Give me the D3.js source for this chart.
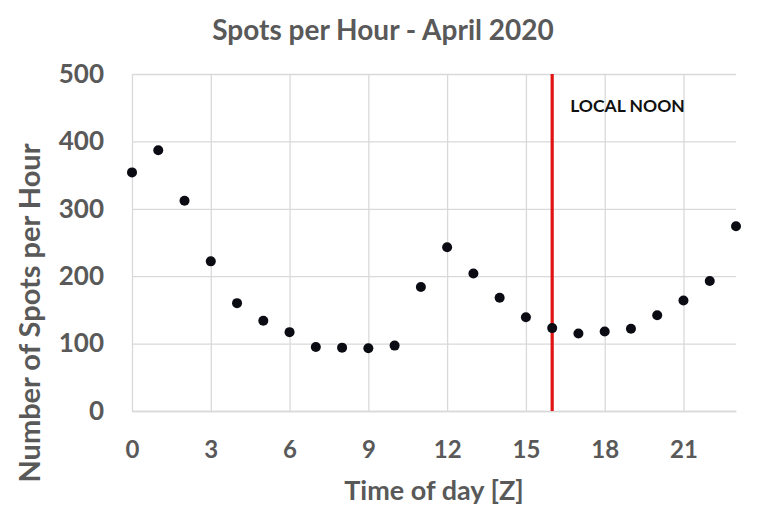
<!DOCTYPE html>
<html>
<head>
<meta charset="utf-8">
<script src="https://cdn.jsdelivr.net/npm/d3@7"></script>
<style>
  body { margin: 0; background: #fff; }
  text { font-family: Lato, "Open Sans", sans-serif; font-weight: bold; }
</style>
</head>
<body>
<div id="chart-area"></div>
<script>
// hours (Z) and spots per hour
const hours = [0, 1, 2, 3, 4, 5, 6, 7, 8, 9, 10, 11, 12, 13, 14, 15, 16, 17, 18, 19, 20, 21, 22, 23];
const spots = [354, 387, 312, 222, 160, 134, 117, 95, 94, 93, 97, 184, 243, 204, 168, 139, 123, 115, 118, 122, 142, 164, 193, 274];
const xTicks = [0, 3, 6, 9, 12, 15, 18, 21];
const yTicks = [0, 100, 200, 300, 400, 500];
const noonHour = 16;

const chart = () => {
	let margin = {left: 132, right: 30, top: 74, bottom: 114};
	let width = 766 - margin.left - margin.right;
	let height = 525 - margin.top - margin.bottom;

	let svg = d3.select("#chart-area")
		.append("svg")
			.attr("width", 766)
			.attr("height", 525);

	let g = svg.append("g")
		.attr("transform", "translate(" + margin.left + "," + margin.top + ")");

	// scales
	let x = d3.scaleLinear()
		.domain([0, 23])
		.range([0, width]);

	let y = d3.scaleLinear()
		.domain([0, 500])
		.range([height, 0]);

	// grid
	let yGrid = d3.axisLeft(y)
		.tickValues(yTicks)
		.tickSize(-width)
		.tickFormat("");
	g.append("g")
		.attr("class", "grid")
		.call(yGrid);

	let xGrid = d3.axisBottom(x)
		.tickValues(xTicks)
		.tickSize(-height)
		.tickFormat("");
	g.append("g")
		.attr("class", "grid")
		.attr("transform", "translate(0," + height + ")")
		.call(xGrid);

	g.selectAll(".grid .domain").remove();
	g.selectAll(".grid line")
		.attr("stroke", "#d9d9d9")
		.attr("stroke-width", 1.3);

	// X axis labels
	let xAxis = d3.axisBottom(x)
		.tickValues(xTicks)
		.tickSize(0)
		.tickPadding(30);
	let xg = g.append("g")
		.attr("transform", "translate(0," + height + ")")
		.call(xAxis);
	xg.select(".domain").attr("stroke", "#d9d9d9").attr("stroke-width", 1.3);
	xg.selectAll("text")
		.attr("font-size", "24px")
		.attr("fill", "#595959");

	// Y axis labels
	let yAxis = d3.axisLeft(y)
		.tickValues(yTicks)
		.tickSize(0)
		.tickPadding(28);
	let yg = g.append("g").call(yAxis);
	yg.select(".domain").remove();
	yg.selectAll("text")
		.attr("font-size", "26px")
		.attr("fill", "#595959");

	// local noon marker
	g.append("line")
		.attr("x1", x(noonHour))
		.attr("x2", x(noonHour))
		.attr("y1", 0)
		.attr("y2", height)
		.attr("stroke", "#e01414")
		.attr("stroke-width", 3.2);

	g.append("text")
		.attr("x", x(noonHour) + 18)
		.attr("y", 37.5)
		.attr("font-size", "17.5px")
		.attr("fill", "#111")
		.text("LOCAL NOON");

	// points
	g.selectAll("circle")
		.data(hours)
		.enter()
		.append("circle")
			.attr("cx", (d) => x(d))
			.attr("cy", (d, i) => y(spots[i]))
			.attr("r", 5)
			.attr("fill", "#0b0b14");

	// title
	svg.append("text")
		.attr("x", 383)
		.attr("y", 40)
		.attr("text-anchor", "middle")
		.attr("font-size", "28px")
		.attr("fill", "#595959")
		.text("Spots per Hour - April 2020");

	// X Label
	svg.append("text")
		.attr("x", 434)
		.attr("y", 500)
		.attr("text-anchor", "middle")
		.attr("font-size", "27px")
		.attr("fill", "#595959")
		.text("Time of day [Z]");

	// Y Label
	svg.append("text")
		.attr("transform", "rotate(-90)")
		.attr("x", -313)
		.attr("y", 40)
		.attr("text-anchor", "middle")
		.attr("font-size", "29px")
		.attr("fill", "#595959")
		.text("Number of Spots per Hour");
};

chart();
</script>
</body>
</html>
